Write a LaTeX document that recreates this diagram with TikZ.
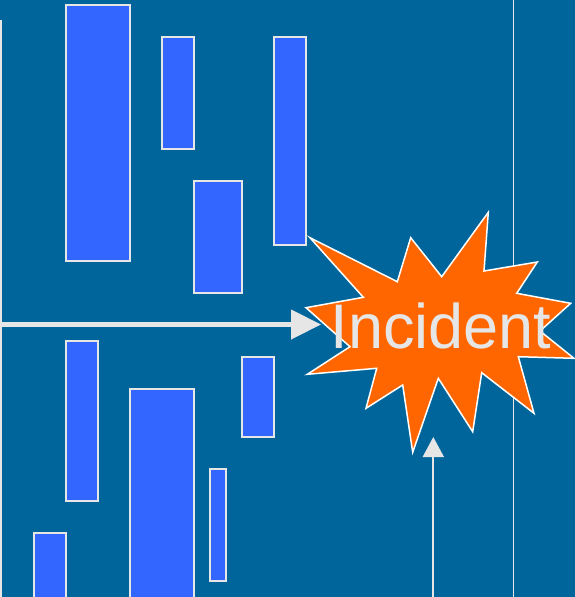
\documentclass[tikz,border=0pt]{standalone}
\usepackage{fontspec}
\setmainfont{Liberation Sans}
\usetikzlibrary{arrows.meta}
\definecolor{bg}{HTML}{00659A}
\definecolor{barfill}{HTML}{3366FF}
\definecolor{lineclr}{HTML}{E6E6E6}
\definecolor{burst}{HTML}{FF6600}
\begin{document}
\begin{tikzpicture}[x=1pt,y=-1pt,
  bar/.style={draw=lineclr,line width=1.6pt,fill=barfill,rectangle,inner sep=0pt,anchor=north west},
  thinline/.style={draw=lineclr,line width=1.8pt},
  bigarrow/.style={draw=lineclr,line width=4.5pt,-{Triangle[length=30pt,width=29pt]}},
  smallarrow/.style={draw=lineclr,line width=1.8pt,-{Triangle[length=20pt,width=21pt]}}]
\fill[bg] (0,0) rectangle (575,597);
\useasboundingbox (0,0) rectangle (575,597);
% vertical lines
\coordinate (lt) at (1,20);
\coordinate (lb) at (1,597);
\draw[thinline] (lt) -- (lb);
\coordinate (rt) at (513.5,0);
\coordinate (rb) at (513.5,597);
\draw[thinline] (rt) -- (rb);
% bars (top)
\node[bar,minimum width=64pt,minimum height=256pt] (b1) at (65,4) {};
\node[bar,minimum width=32pt,minimum height=112pt] (b2) at (161,36) {};
\node[bar,minimum width=48pt,minimum height=112pt] (b3) at (193,180) {};
\node[bar,minimum width=32pt,minimum height=208pt] (b4) at (273,36) {};
% bars (bottom)
\node[bar,minimum width=32pt,minimum height=160pt] (b5) at (65,340) {};
\node[bar,minimum width=64pt,minimum height=212pt] (b6) at (129,388) {};
\node[bar,minimum width=32pt,minimum height=80pt] (b7) at (241,356) {};
\node[bar,minimum width=16pt,minimum height=112pt] (b8) at (209,468) {};
\node[bar,minimum width=32pt,minimum height=68pt] (b9) at (33,532) {};
% starburst
\draw[fill=burst,draw=white,line width=1.5pt,line join=miter]
  (310,237.7) -- (397.3,281.7) -- (410.7,237.7) -- (441.7,276.7) -- (488.3,212.3)
  -- (484,271) -- (537.3,262) -- (516.7,293.3) -- (570.7,303.3) -- (540,331)
  -- (574,358.3) -- (518.3,356.7) -- (534,413.3) -- (481.7,372.7) -- (472.7,431.7)
  -- (438.3,378.3) -- (412.7,452.3) -- (402.7,385) -- (366,408.3) -- (376.7,368.3)
  -- (307.3,374.3) -- (350,346.7) -- (306,307.7) -- (363.3,297.3) -- cycle;
\node[anchor=base,text=lineclr,inner sep=0pt,font=\fontsize{63}{63}\selectfont] (inc) at (441,348) {Incident};
% arrows
\coordinate (hs) at (0,324.5);
\coordinate (he) at (321,324.5);
\draw[bigarrow] (hs) -- (he);
\coordinate (vs) at (433.3,597);
\coordinate (ve) at (433.3,437);
\draw[smallarrow] (vs) -- (ve);
\end{tikzpicture}
\end{document}
